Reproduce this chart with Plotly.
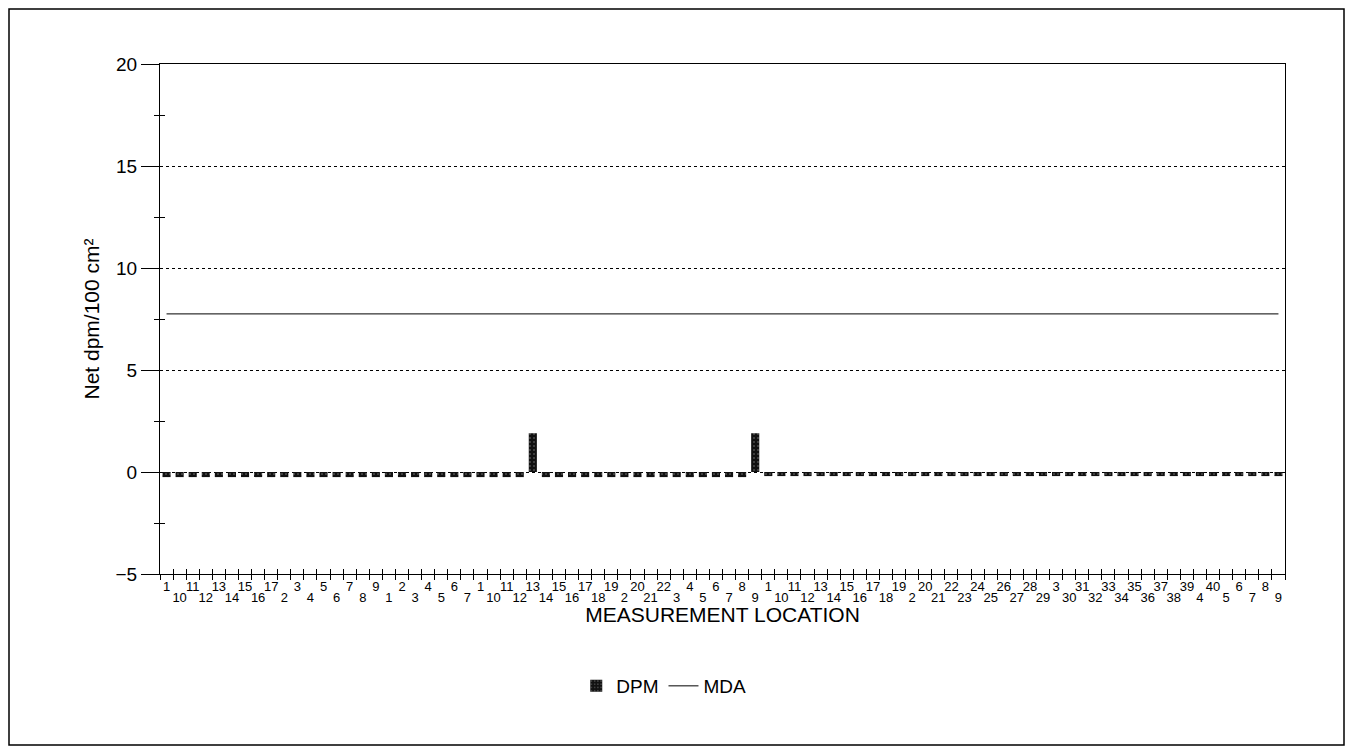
import plotly.graph_objects as go

# ---- data ----
group1_labels = [str(i) for i in sorted(range(1, 18), key=lambda v: str(v))]
group2_labels = [str(i) for i in range(1, 8)]
group3_labels = [str(i) for i in sorted(range(1, 23), key=lambda v: str(v))]
group4_labels = [str(i) for i in sorted(range(1, 41), key=lambda v: str(v))]
location_labels = group1_labels + group2_labels + group3_labels + group4_labels

group1_dpm = [-0.25] * 17
group2_dpm = [-0.25] * 7
group3_dpm = [-0.25, -0.25, -0.25, -0.25, 1.9, -0.25, -0.25, -0.25, -0.25, -0.25, -0.25,
              -0.25, -0.25, -0.25, -0.25, -0.25, -0.25, -0.25, -0.25, -0.25, -0.25, 1.9]
group4_dpm = [-0.2] * 40
dpm_values = group1_dpm + group2_dpm + group3_dpm + group4_dpm
mda_value = 7.75

y_ticks = [-5, 0, 5, 10, 15, 20]

x_idx = list(range(len(location_labels)))
even_idx = x_idx[0::2]
odd_idx = x_idx[1::2]
even_text = location_labels[0::2]
odd_text = location_labels[1::2]

FONT = "Liberation Sans, Arial, sans-serif"
W, H = 1337, 738
L, T, R, B = 152, 56, 60, 172
PW, PH = W - L - R, H - T - B

fig = go.Figure()
fig.add_trace(go.Bar(
    x=x_idx, y=dpm_values, name="DPM", width=0.62,
    marker=dict(color="#111111", line=dict(width=0),
                pattern=dict(shape=".", fgcolor="#8a8a8a", size=4, solidity=0.2)),
))
fig.add_trace(go.Scatter(
    x=x_idx, y=[mda_value] * len(x_idx), name="MDA", mode="lines",
    line=dict(color="black", width=1),
))

xr = [-0.5, len(x_idx) - 0.5]
fig.update_layout(
    width=W, height=H,
    paper_bgcolor="white", plot_bgcolor="white",
    margin=dict(l=L, r=R, t=T, b=B),
    font=dict(family=FONT, color="black"),
    showlegend=True,
    legend=dict(orientation="h", x=0.37, xanchor="left", y=(PH - (686 - 8 - T)) / PH,
                yanchor="middle", font=dict(size=19, family=FONT), bgcolor="rgba(0,0,0,0)"),
    xaxis=dict(
        range=xr, tickmode="array", tickvals=even_idx, ticktext=even_text,
        ticks="", showgrid=False, zeroline=False,
        showline=True, linecolor="black", linewidth=1, mirror=True,
        tickfont=dict(size=13, family=FONT), tickangle=0, ticklabelstandoff=0,
        minor=dict(tick0=-0.5, dtick=1, ticks="outside", ticklen=5, tickcolor="black", showgrid=False),
        title=dict(text="MEASUREMENT LOCATION", font=dict(size=21, family=FONT), standoff=14),
    ),
    xaxis2=dict(
        overlaying="x", side="bottom", range=xr,
        showticklabels=False, showgrid=False, zeroline=False,
        tickmode="linear", tick0=-0.5, dtick=1, ticks="inside", ticklen=5, tickcolor="black",
    ),
    xaxis3=dict(
        overlaying="x", side="bottom", range=xr, tickmode="array", tickvals=odd_idx,
        ticktext=odd_text, ticks="", showgrid=False, zeroline=False, showline=False,
        tickfont=dict(size=13, family=FONT), tickangle=0, ticklabelstandoff=14,
    ),
    yaxis=dict(
        range=[-5, 20], tickmode="array", tickvals=y_ticks,
        ticks="outside", ticklen=18, tickcolor="black",
        showgrid=True, gridcolor="black", griddash="dot", gridwidth=1,
        zeroline=False, showline=True, linecolor="black", linewidth=1, mirror=True,
        tickfont=dict(size=19, family=FONT),
        minor=dict(tick0=2.5, dtick=5, ticks="outside", ticklen=5, tickcolor="black", showgrid=False),
        title=dict(text="Net dpm/100 cm²", font=dict(size=21, family=FONT), standoff=10),
    ),
    yaxis2=dict(
        overlaying="y", side="left", range=[-5, 20], showticklabels=False, showgrid=False,
        zeroline=False, tickmode="linear", tick0=2.5, dtick=5, ticks="inside", ticklen=5,
        tickcolor="black",
    ),
)

# invisible traces to activate overlay axes
fig.add_trace(go.Scatter(x=[x_idx[0]], y=[0], xaxis="x2", yaxis="y2", mode="markers",
                         marker=dict(opacity=0), showlegend=False, hoverinfo="skip"))
fig.add_trace(go.Scatter(x=[x_idx[0]], y=[0], xaxis="x3", yaxis="y", mode="markers",
                         marker=dict(opacity=0), showlegend=False, hoverinfo="skip"))

# outer frame around whole figure
fig.add_shape(type="rect", xref="paper", yref="paper",
              x0=(1 - L) / PW, x1=(W - 1 - L) / PW,
              y0=(PH + T - (H - 1)) / PH, y1=(PH + T - 1) / PH,
              line=dict(color="black", width=1.5), fillcolor="rgba(0,0,0,0)", layer="below")

fig.write_html("out.html")
